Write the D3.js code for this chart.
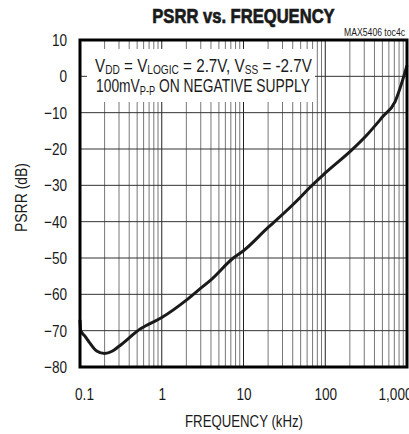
<!DOCTYPE html>
<html>
<head>
<meta charset="utf-8">
<script src="https://cdn.jsdelivr.net/npm/d3@7"></script>
<style>
  body { margin: 0; background: #fff; }
  svg { display: block; }
  text { font-family: "Liberation Sans", Arial, sans-serif; fill: #1a1a1a; }
</style>
</head>
<body>
<div class="chart"></div>
<script>
// PSRR curve (kHz, dB)
const freq = [0.1, 0.102, 0.115, 0.13, 0.16, 0.2, 0.25, 0.3, 0.55, 1, 2, 3, 4, 7.5, 10, 20, 24, 50, 62, 100, 210, 321, 500, 713, 1000];
const psrr = [-67.0, -70.0, -71.5, -73.2, -75.6, -76.3, -75.6, -74.3, -69.5, -66.4, -61.6, -58.3, -56.0, -50.0, -48.0, -41.6, -40.0, -33.2, -31.0, -26.6, -20.3, -16.2, -11.2, -7.0, 3.0];

const xTicks = [0.1, 1, 10, 100, 1000];
const xTickLabels = ["0.1", "1", "10", "100", "1,000"];
const yTicks = [10, 0, -10, -20, -30, -40, -50, -60, -70, -80];

const width = 409, height = 434;
const pLeft = 80, pRight = 407, pTop = 40, pBottom = 367;

let svg = d3.select("div.chart").append("svg")
    .attr("width", width)
    .attr("height", height);

let x = d3.scaleLog().domain([0.1, 1000]).range([pLeft, pRight]);
let y = d3.scaleLinear().domain([-80, 10]).range([pBottom, pTop]);

// condensed look: squeeze a text horizontally round its anchor point
const squeeze = (sel, k, ax) => {
  sel.attr("transform", `translate(${ax},0) scale(${k},1) translate(${-ax},0)`);
};
// or squeeze to a known width
const fitWidth = (sel, ax, w) => {
  let bw = sel.node().getBBox().width;
  squeeze(sel, w / bw, ax);
};

// grid - minor verticals grey, decades darker
let grid = svg.append("g");
grid.selectAll("line.v")
    .data(x.ticks())
    .enter().append("line")
    .attr("class", "v")
    .attr("x1", d => x(d)).attr("x2", d => x(d))
    .attr("y1", pTop).attr("y2", pBottom)
    .attr("stroke", d => xTicks.includes(d) ? "#222" : "#777")
    .attr("stroke-width", 1);

grid.selectAll("line.h")
    .data(yTicks)
    .enter().append("line")
    .attr("class", "h")
    .attr("x1", pLeft).attr("x2", pRight)
    .attr("y1", d => y(d)).attr("y2", d => y(d))
    .attr("stroke", "#333")
    .attr("stroke-width", 1);

// white box behind the conditions text
svg.append("rect")
    .attr("x", 87).attr("y", 49)
    .attr("width", 228).attr("height", 53)
    .attr("fill", "#fff");

// conditions text
let note = svg.append("g");
let line1 = note.append("text").attr("x", 95).attr("y", 72).attr("font-size", 18);
line1.append("tspan").text("V");
line1.append("tspan").attr("font-size", 12).attr("dy", 2.5).text("DD");
line1.append("tspan").attr("dy", -2.5).text(" = V");
line1.append("tspan").attr("font-size", 12).attr("dy", 2.5).text("LOGIC");
line1.append("tspan").attr("dy", -2.5).text(" = 2.7V, V");
line1.append("tspan").attr("font-size", 12).attr("dy", 2.5).text("SS");
line1.append("tspan").attr("dy", -2.5).text(" = -2.7V");

let line2 = note.append("text").attr("x", 96).attr("y", 92.5).attr("font-size", 18);
line2.append("tspan").text("100mV");
line2.append("tspan").attr("font-size", 12).attr("dy", 2.5).text("P-P");
line2.append("tspan").attr("dy", -2.5).text(" ON NEGATIVE SUPPLY");

fitWidth(line1, 95, 217);
fitWidth(line2, 96, 214);

// the curve
let pts = freq.map((f, i) => [f, psrr[i]]);
let lineGen = d3.line()
    .x(d => x(d[0]))
    .y(d => y(d[1]))
    .curve(d3.curveMonotoneX);

svg.append("path")
    .datum(pts)
    .attr("d", lineGen)
    .attr("fill", "none")
    .attr("stroke", "#1a1a1a")
    .attr("stroke-width", 3)
    .attr("stroke-linejoin", "round");

// frame
svg.append("rect")
    .attr("x", pLeft).attr("y", pTop)
    .attr("width", pRight - pLeft).attr("height", pBottom - pTop)
    .attr("fill", "none")
    .attr("stroke", "#000")
    .attr("stroke-width", 3);

// axes labels
let xAxis = d3.axisBottom(x).tickValues(xTicks)
    .tickFormat((d, i) => xTickLabels[i]).tickSize(0).tickPadding(0);
let gx = svg.append("g").attr("transform", `translate(0,${pBottom})`).call(xAxis);
gx.select(".domain").remove();
gx.attr("font-family", null).attr("font-size", null);
gx.selectAll("text")
    .attr("y", 33).attr("dy", 0)
    .attr("font-size", 17)
    .attr("x", (d, i) => i === 0 ? 4 : (i === 4 ? -12 : 0))
    .each(function(d, i) { squeeze(d3.select(this), 0.8, i === 0 ? 4 : (i === 4 ? -12 : 0)); });

let yAxis = d3.axisLeft(y).tickValues(yTicks).tickSize(0).tickPadding(0);
let gy = svg.append("g").attr("transform", `translate(67,0)`).call(yAxis);
gy.select(".domain").remove();
gy.attr("font-family", null).attr("font-size", null);
gy.selectAll("text")
    .attr("x", 0)
    .attr("font-size", 17)
    .each(function() { squeeze(d3.select(this), 0.8, 0); });
svg.selectAll(".tick text").attr("fill", "#1a1a1a");

// titles
let title = svg.append("text")
    .attr("x", 243.5).attr("y", 23)
    .attr("text-anchor", "middle")
    .attr("font-size", 20)
    .attr("font-weight", "bold")
    .attr("stroke", "#1a1a1a")
    .attr("stroke-width", 0.7)
    .text("PSRR vs. FREQUENCY");
fitWidth(title, 243.5, 183);

let maxNote = svg.append("text")
    .attr("x", 405).attr("y", 36)
    .attr("text-anchor", "end")
    .attr("font-size", 10)
    .text("MAX5406 toc4c");
fitWidth(maxNote, 405, 61);

let xTitle = svg.append("text")
    .attr("x", 244).attr("y", 427)
    .attr("text-anchor", "middle")
    .attr("font-size", 17)
    .text("FREQUENCY (kHz)");
fitWidth(xTitle, 244, 118);

let yTitle = svg.append("text")
    .attr("transform", "translate(27,197.5) rotate(-90)")
    .attr("text-anchor", "middle")
    .attr("font-size", 17)
    .text("PSRR (dB)");
// rotated: squeeze along its own baseline
let yw = yTitle.node().getBBox().width;
yTitle.attr("transform", `translate(27,197.5) rotate(-90) scale(${69 / yw},1)`);
</script>
</body>
</html>
